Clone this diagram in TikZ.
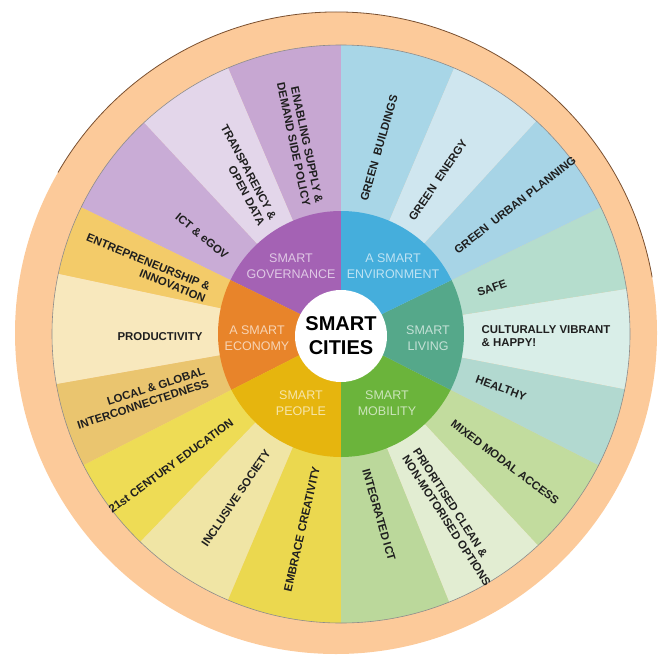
\documentclass[tikz,border=0pt]{standalone}
\usepackage{fontspec}
\setmainfont{Liberation Sans}
\definecolor{ringc}{HTML}{FCCA9A}
\definecolor{ringedge}{HTML}{7A5030}
\definecolor{sEnab}{HTML}{C7A7D2}
\definecolor{sTrans}{HTML}{E3D6EA}
\definecolor{sIct}{HTML}{C9ACD6}
\definecolor{sEntre}{HTML}{F3CB69}
\definecolor{sProd}{HTML}{F8E8BD}
\definecolor{sLocal}{HTML}{EAC56F}
\definecolor{sEdu}{HTML}{EEDC55}
\definecolor{sIncl}{HTML}{F0E5A5}
\definecolor{sEmbr}{HTML}{EBD84F}
\definecolor{sInteg}{HTML}{BBD89B}
\definecolor{sPrio}{HTML}{E2EDD2}
\definecolor{sMixed}{HTML}{C2DC9E}
\definecolor{sHealth}{HTML}{B2D9D0}
\definecolor{sCult}{HTML}{D9EEE8}
\definecolor{sSafe}{HTML}{B5DDCD}
\definecolor{sUrban}{HTML}{A7D4E6}
\definecolor{sEnergy}{HTML}{CFE6EF}
\definecolor{sBuild}{HTML}{A8D6E7}
\definecolor{mGov}{HTML}{A462B4}
\definecolor{mEnv}{HTML}{45AEDC}
\definecolor{mLiv}{HTML}{55A88A}
\definecolor{mMob}{HTML}{6BB43B}
\definecolor{mPeo}{HTML}{E6B50E}
\definecolor{mEco}{HTML}{E8842A}
\begin{document}
\begin{tikzpicture}[x=1pt,y=1pt,
  outerlbl/.style={font=\bfseries\fontsize{11.4}{13}\selectfont, text=black!88, inner sep=0pt},
  leftlbl/.style={outerlbl, align=right},
  rightlbl/.style={outerlbl, align=left},
  midlbl/.style={font=\fontsize{12.5}{15.5}\selectfont, text=white, text opacity=0.65, align=center, inner sep=0pt},
  centerlbl/.style={circle, fill=white, minimum size=92pt, inner sep=0pt, align=center,
    font=\bfseries\fontsize{20}{24}\selectfont, text=black}]
\useasboundingbox (0,0) rectangle (660,657);
\coordinate (C) at (341,323);
% outer peach ring
\fill[ringc] (336,324) circle[radius=321];
\draw[ringedge, line width=0.8pt] (336,324) ++(10:321) arc[start angle=10, end angle=150, radius=321];
% outer segments
\foreach \a/\b/\c in {90/113/sEnab, 113/133/sTrans, 133/154/sIct, 154/168/sEntre,
  168/190/sProd, 190/207/sLocal, 207/226/sEdu, 226/247/sIncl, 247/270/sEmbr,
  270/292/sInteg, 292/313/sPrio, 313/333/sMixed, 333/349/sHealth, 349/369/sCult,
  369/386/sSafe, 386/407.5/sUrban, 407.5/427/sEnergy, 427/450/sBuild}
  {\fill[\c] (C) -- ++(\a:289) arc[start angle=\a, end angle=\b, radius=289] -- cycle;}
\draw[black!45, line width=0.6pt] (C) circle[radius=289];
% middle sectors
\foreach \a/\b/\c in {90/154/mGov, 154/207/mEco, 207/270/mPeo, 270/333/mMob, 333/386/mLiv, 386/450/mEnv}
  {\fill[\c] (C) -- ++(\a:123) arc[start angle=\a, end angle=\b, radius=123] -- cycle;}
% centre
\node[centerlbl] (hub) at (341,321) {SMART\\CITIES};
% middle labels
\node[midlbl] (gov) at (291,391) {SMART\\GOVERNANCE};
\node[midlbl] (env) at (393,391) {A SMART\\ENVIRONMENT};
\node[midlbl] (liv) at (428,319) {SMART\\LIVING};
\node[midlbl] (mob) at (387,254) {SMART\\MOBILITY};
\node[midlbl] (peo) at (301,254) {SMART\\PEOPLE};
\node[midlbl] (eco) at (257,319) {A SMART\\ECONOMY};
% outer labels
\node[leftlbl, rotate=-78] (enab) at (300,514) {ENABLING SUPPLY \&\\DEMAND SIDE POLICY};
\node[leftlbl, rotate=-62] (trans) at (243,482) {TRANSPARENCY \&\\OPEN DATA};
\node[leftlbl, rotate=-40] (ict) at (202,421) {ICT \& eGOV};
\node[leftlbl, rotate=-22] (entre) at (146,389) {ENTREPRENEURSHIP \&\\INNOVATION};
\node[leftlbl, rotate=0] (prod) at (160,320) {PRODUCTIVITY};
\node[leftlbl, rotate=18] (local) at (141,259) {LOCAL \& GLOBAL\\INTERCONNECTEDNESS};
\node[leftlbl, rotate=36] (edu) at (171,191) {21st CENTURY EDUCATION};
\node[leftlbl, rotate=56] (incl) at (236,159) {INCLUSIVE SOCIETY};
\node[leftlbl, rotate=77] (embr) at (302,128) {EMBRACE CREATIVITY};
\node[rightlbl, rotate=-74] (integ) at (379,142) {INTEGRATED ICT};
\node[rightlbl, rotate=-57] (prio) at (452,140) {PRIORITISED CLEAN \&\\NON-MOTORISED OPTIONS};
\node[rightlbl, rotate=-37] (mixed) at (505,195) {MIXED MODAL ACCESS};
\node[rightlbl, rotate=-20] (health) at (501,269) {HEALTHY};
\node[rightlbl, rotate=0] (cult) at (546,321) {CULTURALLY VIBRANT\\\& HAPPY!};
\node[rightlbl, rotate=20] (safe) at (492,369) {SAFE};
\node[rightlbl, rotate=38] (urban) at (515,452) {GREEN\ \ URBAN PLANNING};
\node[rightlbl, rotate=56] (energy) at (438,477) {GREEN\ \ ENERGY};
\node[rightlbl, rotate=74] (build) at (379,509) {GREEN\ \ BUILDINGS};
\end{tikzpicture}
\end{document}
